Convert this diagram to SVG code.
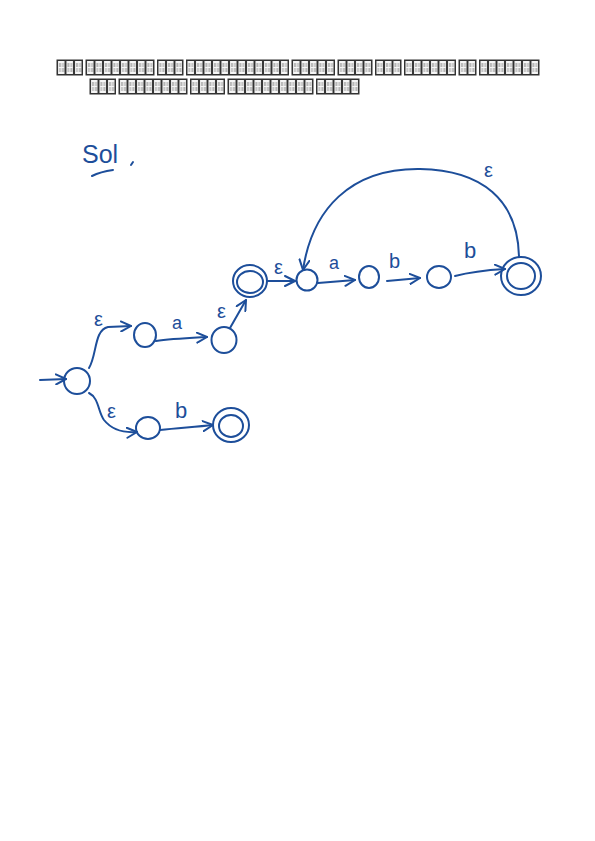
<svg xmlns="http://www.w3.org/2000/svg" width="595" height="841" viewBox="0 0 595 841">
<defs>
<pattern id="tofu" patternUnits="userSpaceOnUse" width="8.5" height="15">
<rect x="0.5" y="0.5" width="7.5" height="14" fill="#f6f6f6" stroke="#333" stroke-width="1"/>
<rect x="2" y="3" width="2" height="4" fill="#b4b4b4"/>
<rect x="5" y="3" width="2" height="4" fill="#c4c4c4"/>
<rect x="2" y="8" width="2" height="4" fill="#c4c4c4"/>
<rect x="5" y="8" width="2" height="4" fill="#b4b4b4"/>
</pattern>
<marker id="ah" viewBox="0 0 12 12" refX="11" refY="6" markerWidth="12" markerHeight="12" markerUnits="userSpaceOnUse" orient="auto">
<path d="M1,1 L11,6 L1,11" fill="none" stroke="#1d4e9a" stroke-width="2" stroke-linecap="round" stroke-linejoin="round"/>
</marker>
<style>
.ink{fill:none;stroke:#1d4e9a;stroke-width:2;stroke-linecap:round;stroke-linejoin:round}
.lbl{font-family:"Liberation Sans","DejaVu Sans",sans-serif;fill:#1d4e9a}
.tf{fill:url(#tofu);stroke:#333;stroke-width:1}
</style>
</defs>
<rect width="595" height="841" fill="#fff"/>
<g id="heading">
<g transform="translate(57,60)"><rect class="tf" width="25.5" height="15"/></g>
<g transform="translate(86,60)"><rect class="tf" width="68" height="15"/></g>
<g transform="translate(157.5,60)"><rect class="tf" width="25.5" height="15"/></g>
<g transform="translate(186.5,60)"><rect class="tf" width="102" height="15"/></g>
<g transform="translate(292,60)"><rect class="tf" width="42.5" height="15"/></g>
<g transform="translate(338,60)"><rect class="tf" width="34" height="15"/></g>
<g transform="translate(375.5,60)"><rect class="tf" width="25.5" height="15"/></g>
<g transform="translate(404.5,60)"><rect class="tf" width="51" height="15"/></g>
<g transform="translate(459,60)"><rect class="tf" width="17" height="15"/></g>
<g transform="translate(479.5,60)"><rect class="tf" width="59.5" height="15"/></g>
<g transform="translate(90,79)"><rect class="tf" width="25.5" height="15"/></g>
<g transform="translate(119,79)"><rect class="tf" width="68" height="15"/></g>
<g transform="translate(190.5,79)"><rect class="tf" width="34" height="15"/></g>
<g transform="translate(228,79)"><rect class="tf" width="85" height="15"/></g>
<g transform="translate(316.5,79)"><rect class="tf" width="42.5" height="15"/></g>
</g>
<g id="sol">
<text class="lbl" x="82" y="163" font-size="25">Sol</text>
<path class="ink" d="M92,176 C98,173 106,171 113,170"/>
<path class="ink" d="M131,165 L133,162"/>
</g>
<g id="connectors">
<path class="ink" d="M40,380 L66,379" marker-end="url(#ah)"/>
<path class="ink" d="M89,368 C97,355 94,330 108,327 L131,326" marker-end="url(#ah)"/>
<path class="ink" d="M156,341 C170,339 190,338 207,337" marker-end="url(#ah)"/>
<path class="ink" d="M230,328 L246,300" marker-end="url(#ah)"/>
<path class="ink" d="M268,281 L295,281" marker-end="url(#ah)"/>
<path class="ink" d="M318,283 L355,280" marker-end="url(#ah)"/>
<path class="ink" d="M387,281 L420,278" marker-end="url(#ah)"/>
<path class="ink" d="M455,276 C470,272 488,270 505,269" marker-end="url(#ah)"/>
<path class="ink" d="M519,257 C518,200 482,170 420,169 C350,168 312,210 303,270" marker-end="url(#ah)"/>
<path class="ink" d="M89,393 C99,398 98,412 104,420 C112,430 124,433 137,432" marker-end="url(#ah)"/>
<path class="ink" d="M160,430 C178,428 195,427 213,425" marker-end="url(#ah)"/>
<text class="lbl" x="94" y="326" font-size="20">ε</text>
<text class="lbl" x="172" y="329" font-size="18">a</text>
<text class="lbl" x="217" y="318" font-size="20">ε</text>
<text class="lbl" x="274" y="274" font-size="20">ε</text>
<text class="lbl" x="329" y="269" font-size="18">a</text>
<text class="lbl" x="389" y="268" font-size="20">b</text>
<text class="lbl" x="464" y="258" font-size="22">b</text>
<text class="lbl" x="484" y="177" font-size="20">ε</text>
<text class="lbl" x="107" y="418" font-size="20">ε</text>
<text class="lbl" x="175" y="418" font-size="22">b</text>
</g>
<g id="q0"><ellipse class="ink" cx="77" cy="381" rx="13" ry="13"/></g>
<g id="q1"><ellipse class="ink" cx="145" cy="335" rx="11" ry="12"/></g>
<g id="q2"><ellipse class="ink" cx="224" cy="340" rx="12.5" ry="13"/></g>
<g id="q3"><ellipse class="ink" cx="250" cy="281" rx="17" ry="16"/><ellipse class="ink" cx="250" cy="282" rx="13" ry="11"/></g>
<g id="q4"><ellipse class="ink" cx="307" cy="280" rx="10.5" ry="10.5"/></g>
<g id="q5"><ellipse class="ink" cx="369" cy="277" rx="10" ry="11"/></g>
<g id="q6"><ellipse class="ink" cx="439" cy="277" rx="12" ry="11"/></g>
<g id="q7"><ellipse class="ink" cx="521" cy="276" rx="20" ry="19"/><ellipse class="ink" cx="521" cy="276" rx="14" ry="13"/></g>
<g id="q8"><ellipse class="ink" cx="148" cy="428" rx="12" ry="11"/></g>
<g id="q9"><ellipse class="ink" cx="231" cy="425" rx="18" ry="17"/><ellipse class="ink" cx="231" cy="426" rx="12" ry="11"/></g>
</svg>
